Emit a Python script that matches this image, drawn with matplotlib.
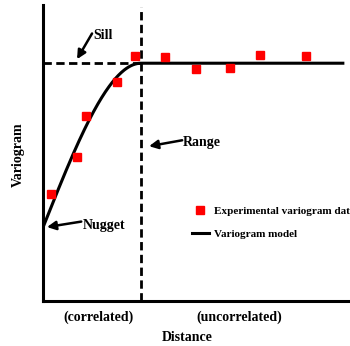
import matplotlib.pyplot as plt
import numpy as np

# experimental variogram points (distance in units of the range, gamma in units of the sill)
lag = [0.08, 0.35, 0.44, 0.755, 0.94, 1.245, 1.56, 1.91, 2.21, 2.68]
gamma = [0.45, 0.605, 0.777, 0.92, 1.03, 1.025, 0.975, 0.98, 1.034, 1.03]

# spherical model parameters
nugget = 0.31
sill = 1.0
vrange = 1.0

plt.rcParams['font.family'] = ['Liberation Serif', 'DejaVu Serif']
plt.rcParams['font.weight'] = 'bold'

fig = plt.figure(figsize=(3.5, 3.46), dpi=100)
ax = fig.add_axes([0.123, 0.130, 0.877, 0.855])

h = np.linspace(0, 3.06, 400)
hr = np.minimum(h / vrange, 1.0)
model = nugget + (sill - nugget) * (1.5 * hr - 0.5 * hr ** 3)

ax.plot(lag, gamma, 's', color='#ff0000', markersize=6, label='Experimental variogram data', zorder=3)
ax.plot(h, model, '-', color='black', lw=2.2, label='Variogram model', zorder=2)

ax.plot([0, vrange], [sill, sill], color='black', lw=2, linestyle=(0, (3, 1.6)))
ax.plot([vrange, vrange], [0, 1.235], color='black', lw=2, linestyle=(0, (3, 1.6)))

ax.set_xlim(0, 3.133)
ax.set_ylim(0, 1.244)
for s in ['top', 'right']:
    ax.spines[s].set_visible(False)
for s in ['left', 'bottom']:
    ax.spines[s].set_linewidth(2.2)
ax.set_xticks([])
ax.set_yticks([])

arrow = dict(arrowstyle='-|>', color='black', lw=1.8, mutation_scale=13, shrinkA=0, shrinkB=0)
ax.annotate('', xy=(0.347, 1.017), xytext=(0.5, 1.125), arrowprops=arrow)
ax.annotate('', xy=(1.082, 0.651), xytext=(1.42, 0.676), arrowprops=arrow)
ax.annotate('', xy=(0.04, 0.311), xytext=(0.39, 0.334), arrowprops=arrow)
ax.text(0.51, 1.118, 'Sill', ha='left', va='center', fontsize=10)
ax.text(1.43, 0.668, 'Range', ha='left', va='center', fontsize=10)
ax.text(0.41, 0.319, 'Nugget', ha='left', va='center', fontsize=10)

ax.legend(loc='upper left', bbox_to_anchor=(0.485, 0.32), frameon=False, fontsize=8,
          handlelength=1.5, handletextpad=0.5, labelspacing=1.2, borderpad=0, borderaxespad=0)

ax.text(0.182, -0.054, '(correlated)', transform=ax.transAxes, ha='center', va='center', fontsize=10)
ax.text(0.638, -0.054, '(uncorrelated)', transform=ax.transAxes, ha='center', va='center', fontsize=10)
ax.text(0.469, -0.122, 'Distance', transform=ax.transAxes, ha='center', va='center', fontsize=10)
ax.text(-0.081, 0.493, 'Variogram', transform=ax.transAxes, ha='center', va='center',
        rotation=90, fontsize=10)

fig.savefig('out.png', dpi=100)
